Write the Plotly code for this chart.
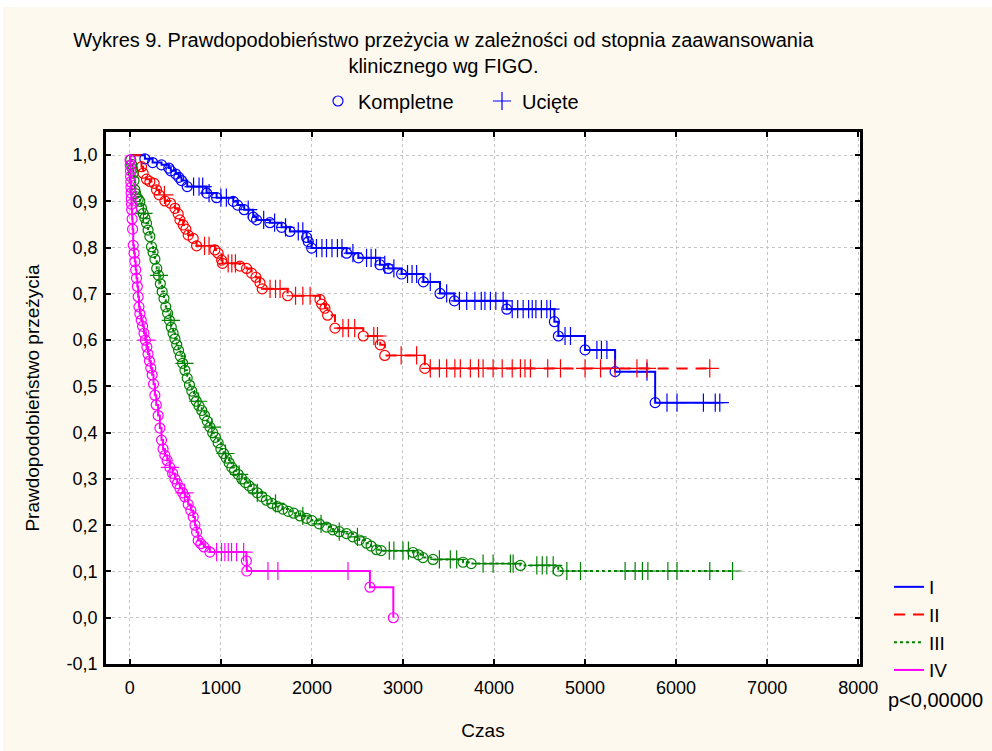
import numpy as np
import plotly.graph_objects as go

# ---------------- data ----------------
# Group I (blue): event times and survival after each event, censor times
t_I = [165, 250, 348, 428, 450, 505, 538, 568, 630, 843, 953, 1136, 1183, 1256, 1355, 1392,
       1538, 1667, 1758, 1942, 1960, 1997, 2381, 2510, 2747, 2838, 2985, 3224, 3407, 3565,
       4140, 4663, 4707, 5000, 5330, 5770]
s_I = [0.992, 0.984, 0.979, 0.972, 0.966, 0.959, 0.952, 0.945, 0.932, 0.918, 0.908, 0.900,
       0.892, 0.882, 0.866, 0.860, 0.854, 0.844, 0.835, 0.822, 0.813, 0.799, 0.788, 0.778,
       0.763, 0.755, 0.743, 0.726, 0.701, 0.685, 0.667, 0.640, 0.609, 0.579, 0.532, 0.465]
c_I = [700, 760, 800, 870, 1000, 1060, 1300, 1470, 1590, 1710, 1850, 1900, 2050, 2110, 2160,
       2220, 2280, 2330, 2450, 2600, 2650, 2700, 2800, 2900, 3050, 3100, 3150, 3300, 3480,
       3620, 3700, 3790, 3860, 3900, 3960, 4020, 4100, 4200, 4260, 4320, 4380, 4420, 4460,
       4520, 4580, 4620, 4780, 4840, 5130, 5180, 5240, 5680, 5900, 6010, 6300, 6430, 6480]

# Group II (red)
t_II = [128, 146, 183, 220, 267, 293, 322, 385, 447, 495, 531, 550, 586, 615, 641, 696, 733,
        934, 970, 1008, 1018, 1209, 1282, 1337, 1385, 1429, 1454, 1733, 2088, 2107, 2143,
        2172, 2253, 2564, 2750, 2800, 3240]
s_II = [0.975, 0.961, 0.948, 0.943, 0.939, 0.925, 0.914, 0.901, 0.896, 0.885, 0.873, 0.860,
        0.849, 0.840, 0.827, 0.820, 0.804, 0.795, 0.788, 0.773, 0.766, 0.760, 0.755, 0.745,
        0.736, 0.724, 0.711, 0.696, 0.688, 0.678, 0.669, 0.654, 0.626, 0.609, 0.590, 0.567,
        0.539]
c_II = [380, 820, 870, 1080, 1120, 1160, 1540, 1600, 1650, 1820, 1900, 1980, 2340, 2400, 2470,
        2680, 2720, 2980, 3150, 3300, 3400, 3480, 3570, 3630, 3740, 3830, 3880, 3990, 4090,
        4200, 4290, 4340, 4400, 4590, 4730, 5000, 5170, 5330, 5570, 5680, 6370]

# Group III (green)
t_III = [10, 20, 30, 37, 46, 55, 64, 73, 92, 110, 128, 146, 165, 183, 200, 220, 238, 255, 275,
         295, 315, 335, 355, 375, 395, 415, 435, 455, 475, 495, 515, 535, 555, 580, 605, 630,
         655, 680, 705, 730, 760, 790, 820, 850, 880, 910, 940, 970, 1000, 1030, 1060, 1090,
         1120, 1150, 1190, 1230, 1270, 1310, 1350, 1400, 1450, 1500, 1560, 1620, 1680, 1740,
         1800, 1870, 1940, 2000, 2080, 2160, 2230, 2300, 2380, 2450, 2520, 2600, 2650, 2710,
         2760, 3110, 3170, 3220, 3330, 3660, 3750, 4290, 4705]
s_III = [0.990, 0.980, 0.970, 0.961, 0.945, 0.925, 0.917, 0.910, 0.905, 0.900, 0.885, 0.874,
         0.864, 0.853, 0.838, 0.824, 0.802, 0.790, 0.775, 0.755, 0.740, 0.722, 0.705, 0.690,
         0.672, 0.658, 0.643, 0.628, 0.615, 0.603, 0.590, 0.578, 0.565, 0.550, 0.535, 0.518,
         0.503, 0.490, 0.478, 0.468, 0.458, 0.448, 0.437, 0.425, 0.412, 0.400, 0.390, 0.378,
         0.365, 0.355, 0.345, 0.335, 0.325, 0.318, 0.310, 0.300, 0.292, 0.285, 0.278, 0.270,
         0.262, 0.254, 0.247, 0.240, 0.235, 0.230, 0.226, 0.220, 0.215, 0.210, 0.203, 0.196,
         0.190, 0.186, 0.182, 0.175, 0.168, 0.161, 0.155, 0.147, 0.145, 0.141, 0.136, 0.130,
         0.126, 0.120, 0.117, 0.113, 0.101]
c_III = [150, 320, 450, 600, 750, 900, 1050, 1200, 1400, 1600, 1900, 2100, 2300, 2500, 2850,
         2900, 3000, 3060, 3400, 3520, 3590, 3880, 3990, 4180, 4210, 4470, 4530, 4580, 4650,
         4800, 4950, 5440, 5550, 5630, 5690, 5910, 6010, 6370, 6620]

# Group IV (magenta)
t_IV = [2, 4, 6, 8, 10, 12, 14, 16, 18, 20, 25, 30, 37, 46, 55, 64, 73, 82, 91, 100, 110, 125,
        140, 155, 170, 187, 200, 215, 230, 245, 260, 275, 290, 311, 330, 348, 365, 385, 410,
        440, 470, 495, 520, 550, 580, 605, 641, 670, 696, 715, 733, 751, 780, 813, 879, 1280,
        1285, 2637, 2894]
s_IV = [0.990, 0.978, 0.966, 0.954, 0.942, 0.930, 0.918, 0.906, 0.894, 0.882, 0.862, 0.840,
        0.805, 0.788, 0.770, 0.752, 0.734, 0.716, 0.694, 0.672, 0.657, 0.643, 0.630, 0.615,
        0.600, 0.585, 0.570, 0.555, 0.540, 0.525, 0.505, 0.481, 0.460, 0.437, 0.410, 0.384,
        0.365, 0.351, 0.340, 0.325, 0.312, 0.300, 0.290, 0.280, 0.270, 0.261, 0.245, 0.232,
        0.218, 0.200, 0.185, 0.167, 0.160, 0.153, 0.142, 0.123, 0.101, 0.066, 0.000]
c_IV = [180, 440, 600, 953, 1007, 1044, 1081, 1117, 1172, 1250, 1517, 1626, 2396]

group_names = ["I", "II", "III", "IV"]
group_colors = ["#0000ff", "#ff0000", "#008000", "#ff00ff"]
group_dash = ["solid", "11px,8px", "3px,3px", "solid"]

x_tick_vals = [0, 1000, 2000, 3000, 4000, 5000, 6000, 7000, 8000]
x_tick_text = ["0", "1000", "2000", "3000", "4000", "5000", "6000", "7000", "8000"]
y_tick_vals = [-0.1, 0.0, 0.1, 0.2, 0.3, 0.4, 0.5, 0.6, 0.7, 0.8, 0.9, 1.0]
y_tick_text = ["-0,1", "0,0", "0,1", "0,2", "0,3", "0,4", "0,5", "0,6", "0,7", "0,8", "0,9", "1,0"]

title_text = ("Wykres 9. Prawdopodobieństwo przeżycia w zależności od stopnia zaawansowania"
              "<br>klinicznego wg FIGO.")
x_title = "Czas"
y_title = "Prawdopodobieństwo przeżycia"
p_text = "p<0,00000"

FONT = "Liberation Sans, Arial, sans-serif"
BG = "#fdf9ef"

# ---------------- figure ----------------
fig = go.Figure()

groups = [(t_I, s_I, c_I), (t_II, s_II, c_II), (t_III, s_III, c_III), (t_IV, s_IV, c_IV)]

for (t_ev, s_ev, c_t), name, col, dash in zip(groups, group_names, group_colors, group_dash):
    t_ev = np.array(t_ev, float)
    s_ev = np.array(s_ev, float)
    c_t = np.array(c_t, float)
    end_t = max(t_ev.max(), c_t.max())
    xs = np.concatenate([[0.0], t_ev, [end_t]])
    ys = np.concatenate([[1.0], s_ev, [s_ev[-1]]])
    # survival value at each censor time
    idx = np.searchsorted(t_ev, c_t, side="right")
    s_all = np.concatenate([[1.0], s_ev])
    c_s = s_all[idx]

    fig.add_trace(go.Scatter(x=xs, y=ys, mode="lines", line_shape="hv",
                             line=dict(color=col, width=2, dash=dash),
                             name=name, legend="legend", hoverinfo="skip"))
    fig.add_trace(go.Scatter(x=t_ev, y=s_ev, mode="markers", showlegend=False,
                             marker=dict(symbol="circle-open", size=10, color=col,
                                         line=dict(width=1.2, color=col))))
    fig.add_trace(go.Scatter(x=c_t, y=c_s, mode="markers", showlegend=False,
                             marker=dict(symbol="cross-thin-open", size=13, color=col,
                                         line=dict(width=1.2, color=col))))

# top legend entries (symbol key)
fig.add_trace(go.Scatter(x=[None], y=[None], mode="markers", name="Kompletne", legend="legend2",
                         marker=dict(symbol="circle-open", size=10, color="#0000ff",
                                     line=dict(width=1.2, color="#0000ff"))))
fig.add_trace(go.Scatter(x=[None], y=[None], mode="markers", name="Ucięte", legend="legend2",
                         marker=dict(symbol="cross-thin-open", size=13, color="#0000ff",
                                     line=dict(width=1.2, color="#0000ff"))))

axis_common = dict(
    showline=True, linecolor="black", linewidth=2.5, mirror="allticks",
    ticks="inside", ticklen=5, tickwidth=2, tickcolor="black",
    showgrid=True, gridcolor="#c4c4c4", gridwidth=1, griddash="3px,3px",
    zeroline=False, automargin=False,
    tickfont=dict(family=FONT, size=18, color="black"),
)

fig.update_layout(
    template="none",
    width=992, height=751,
    margin=dict(l=106, r=132, t=132, b=87, pad=0),
    paper_bgcolor=BG, plot_bgcolor="white",
    font=dict(family=FONT, size=18, color="black"),
    title=dict(text=title_text, xref="container", x=0.447, xanchor="center",
               yref="container", y=1 - 47 / 751, yanchor="top",
               font=dict(family=FONT, size=20, color="black")),
    xaxis=dict(range=[-262, 8020], tickmode="array", tickvals=x_tick_vals, ticktext=x_tick_text,
               title=dict(text=x_title, font=dict(family=FONT, size=19), standoff=27),
               ticklabelstandoff=6, **axis_common),
    yaxis=dict(range=[-0.1, 1.05], tickmode="array", tickvals=y_tick_vals, ticktext=y_tick_text,
               title=dict(text=y_title, font=dict(family=FONT, size=19), standoff=22),
               ticklabelstandoff=2, **axis_common),
    legend=dict(x=(889 - 106) / 754, xanchor="left", y=(664 - 568) / 532, yanchor="top",
                bgcolor="rgba(0,0,0,0)", borderwidth=0,
                font=dict(family=FONT, size=19, color="black"),
                tracegroupgap=0, itemclick=False, itemdoubleclick=False),
    legend2=dict(orientation="h", x=(318 - 106) / 754, xanchor="left",
                 y=(664 - 101) / 532, yanchor="middle",
                 bgcolor="rgba(0,0,0,0)", borderwidth=0, entrywidth=119,
                 font=dict(family=FONT, size=20, color="black"),
                 itemclick=False, itemdoubleclick=False),
    annotations=[dict(text=p_text, xref="paper", yref="paper", x=(886 - 106) / 754,
                      xanchor="left", y=(664 - 700) / 532, yanchor="middle", showarrow=False,
                      font=dict(family=FONT, size=20, color="black"))],
    shapes=[
        dict(type="rect", xref="paper", yref="paper", x0=-0.2, x1=1.2,
             y0=(664 - 7) / 532, y1=1.3, fillcolor="white", line=dict(width=0), layer="below"),
        dict(type="rect", xref="paper", yref="paper", x0=-0.2, x1=(3 - 106) / 754,
             y0=-0.3, y1=1.3, fillcolor="white", line=dict(width=0), layer="below"),
    ],
    showlegend=True,
)

fig.write_html("out.html")
